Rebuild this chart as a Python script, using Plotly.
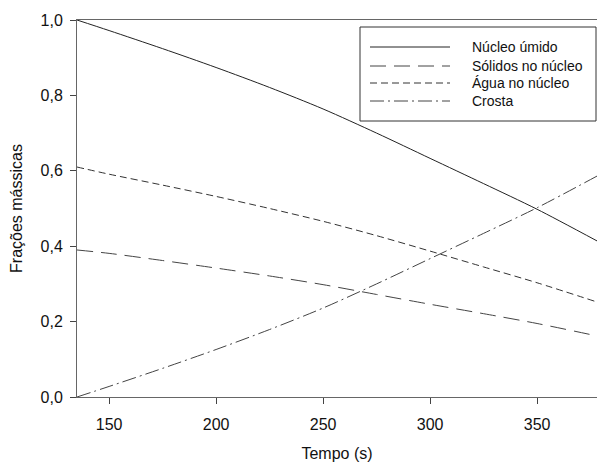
import plotly.graph_objects as go

tempo = [135, 150, 175, 200, 225, 250, 275, 300, 325, 350, 378]
nucleo_umido = [1.0, 0.972, 0.924, 0.874, 0.821, 0.764, 0.70, 0.633, 0.566, 0.498, 0.414]
solidos = [0.39, 0.381, 0.362, 0.342, 0.321, 0.298, 0.272, 0.246, 0.221, 0.195, 0.162]
agua = [0.61, 0.591, 0.562, 0.532, 0.50, 0.466, 0.428, 0.387, 0.345, 0.303, 0.252]
crosta = [0.0, 0.028, 0.076, 0.126, 0.179, 0.236, 0.30, 0.367, 0.434, 0.502, 0.586]

names = ["Núcleo úmido", "Sólidos no núcleo", "Água no núcleo", "Crosta"]
series = [nucleo_umido, solidos, agua, crosta]
dashes = ["solid", "16px,8px", "7px,4px", "14px,4px,2px,4px"]
colors = ["#222222", "#444444", "#333333", "#444444"]

W, H = 597, 466
ml, mr, mt, mb = 77, 0, 20, 69

fig = go.Figure()
for n, s, d, c in zip(names, series, dashes, colors):
    fig.add_trace(go.Scatter(x=tempo, y=s, mode="lines", name=n,
                             line=dict(color=c, width=1, dash=d, shape="spline", smoothing=0.8),
                             showlegend=False))

font = "Liberation Sans, Arial, sans-serif"
fig.update_layout(
    width=W, height=H,
    margin=dict(l=ml, r=mr, t=mt, b=mb),
    paper_bgcolor="white", plot_bgcolor="white",
    separators=",.",
    font=dict(family=font, size=16, color="#111111"),
    xaxis=dict(range=[135, 378], tickvals=[150, 200, 250, 300, 350],
               showgrid=False, zeroline=False, showline=True, linecolor="#666666",
               linewidth=1, mirror=True, ticks="outside", ticklen=6, tickcolor="#444444",
               ticklabelstandoff=7,
               title=dict(text="Tempo (s)", standoff=15, font=dict(size=16)),
               tickfont=dict(size=16)),
    yaxis=dict(range=[0, 1.0], tickvals=[0, 0.2, 0.4, 0.6, 0.8, 1.0], tickformat=".1f",
               showgrid=False, zeroline=False, showline=True, linecolor="#666666",
               linewidth=1, ticks="outside", ticklen=6, tickcolor="#444444",
               ticklabelstandoff=4,
               title=dict(text="Frações mássicas", standoff=13, font=dict(size=16)),
               tickfont=dict(size=16)),
)

# custom legend box (paper coordinates)
def px(x):
    return (x - ml) / (W - ml - mr)

def py(y):
    return 1 - (y - mt) / (H - mt - mb)

fig.add_shape(type="rect", xref="paper", yref="paper",
              x0=px(360), x1=px(596), y0=py(27), y1=py(121),
              line=dict(color="#333333", width=1), fillcolor="white", layer="above")
rows = [47, 66, 83, 101]
for n, d, c, r in zip(names, dashes, colors, rows):
    fig.add_shape(type="line", xref="paper", yref="paper",
                  x0=px(370), x1=px(450), y0=py(r), y1=py(r),
                  line=dict(color=c, width=1, dash=d), layer="above")
    fig.add_annotation(xref="paper", yref="paper", x=px(470), y=py(r),
                       text=n, showarrow=False, xanchor="left", yanchor="middle",
                       font=dict(size=14, color="#111111", family=font))

fig.write_html("out.html")
